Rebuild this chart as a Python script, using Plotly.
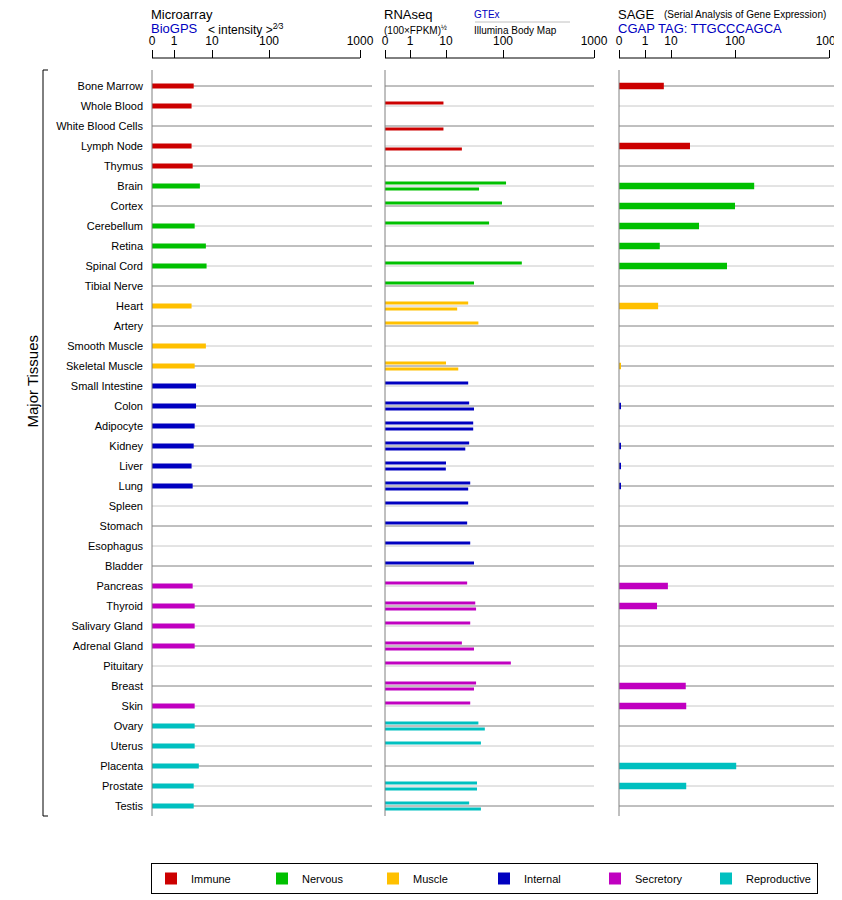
import numpy as np
import plotly.graph_objects as go

tissues = ["Bone Marrow","Whole Blood","White Blood Cells","Lymph Node","Thymus","Brain","Cortex",
 "Cerebellum","Retina","Spinal Cord","Tibial Nerve","Heart","Artery","Smooth Muscle","Skeletal Muscle",
 "Small Intestine","Colon","Adipocyte","Kidney","Liver","Lung","Spleen","Stomach","Esophagus","Bladder",
 "Pancreas","Thyroid","Salivary Gland","Adrenal Gland","Pituitary","Breast","Skin","Ovary","Uterus",
 "Placenta","Prostate","Testis"]
group_names = ["Immune","Nervous","Muscle","Internal","Secretory","Reproductive"]
group_colors = ["#cc0000","#00c000","#ffc000","#0000c0","#c000c0","#00c0c0"]
group_of = [0]*5 + [1]*6 + [2]*4 + [3]*10 + [4]*7 + [5]*5
N = None
microarray = [3.3,2.9,N,2.9,3.1,4.8,N,3.5,6.9,7.2,N,2.9,N,6.9,3.5,3.8,3.8,3.5,3.3,2.9,3.1,N,N,N,N,
              3.1,3.5,3.5,3.5,N,N,3.5,3.5,3.5,4.5,3.3,3.3]
gtex = [N,8.5,N,N,N,108,96,57,N,161,31,24.5,37,N,10,24.5,25.5,30,25.5,10,26.6,24.5,23.5,26.6,31,
        23.5,32.6,26.6,19,122,33.7,26.6,37,41,N,35,25.5]
illumina = [N,N,8.5,19,N,38,N,N,N,N,N,15.7,N,N,16.4,N,31,30,21.8,9.9,24.5,N,N,N,N,
            N,33.7,N,31,N,31,N,48,N,N,35,41]
sage = [5.3,N,N,19.8,N,160,100,27.4,3.7,75,N,3.2,N,N,0.05,N,0.05,N,0.05,0.05,0.05,N,N,N,N,
        7.6,2.9,N,N,N,17,17.3,N,N,103,17.3,N]
tick_labels = ["0","1","10","100","1000"]

panels = [  # (domain px, tick positions px, range end)
    ((144,364),[0,22,60,117,208],220),
    ((377,586),[0,25,61,118,209],209),
    ((611,831),[0,26,52,116,210],220),
]
W,H = 842,900

def pos(v, tp):
    if v is None: return None
    if v < 1: return v*tp[1]
    return float(np.interp(np.log10(v),[0,1,2,3],tp[1:]))

fig = go.Figure()
def add(vals, pi, off, width, leg):
    tp = panels[pi][1]
    ax = "x" if pi==0 else f"x{pi+1}"
    for g in range(6):
        ys=[];xs=[]
        for i,v in enumerate(vals):
            if group_of[i]==g and v is not None:
                ys.append(i+off); xs.append(pos(v,tp))
        fig.add_trace(go.Bar(x=xs,y=ys,orientation="h",width=width,marker_color=group_colors[g],
            marker_line_width=0,xaxis=ax,yaxis="y",name=group_names[g],showlegend=leg,legendgroup=group_names[g]))
add(microarray,0,0,0.25,True)
add(gtex,1,-0.15,0.16,False)
add(illumina,1,0.15,0.16,False)
add(sage,2,0,0.32,False)

shapes=[]
for pi,(dom,tp,rend) in enumerate(panels):
    ax = "x" if pi==0 else f"x{pi+1}"
    for i in range(len(tissues)):
        shapes.append(dict(type="line",xref=ax,yref="y",x0=0,x1=rend,y0=i,y1=i,layer="below",
                           line=dict(color="#808080" if i%2==0 else "#c8c8c8",width=1)))
    shapes.append(dict(type="line",xref="paper",yref="paper",x0=dom[0]/W,x1=dom[0]/W,y0=1-62/H,y1=1-808/H,
                       line=dict(color="#808080",width=1)))
    shapes.append(dict(type="line",xref="paper",yref="paper",x0=dom[0]/W,x1=(dom[0]+tp[-1])/W,y0=1-50/H,y1=1-50/H,
                       line=dict(color="black",width=1)))
shapes.append(dict(type="line",xref="paper",yref="paper",x0=35/W,x1=35/W,y0=1-62/H,y1=1-808/H,line=dict(color="black",width=1)))
for yy in (62,808):
    shapes.append(dict(type="line",xref="paper",yref="paper",x0=35/W,x1=40/W,y0=1-yy/H,y1=1-yy/H,line=dict(color="black",width=1)))
shapes.append(dict(type="line",xref="paper",yref="paper",x0=467/W,x1=562/W,y0=1-14/H,y1=1-14/H,line=dict(color="#c0c0c0",width=1)))

F="Liberation Sans, Arial, sans-serif"
def ann(x,y,t,size=12,color="black",**kw):
    return dict(x=x/W,y=1-y/H,xref="paper",yref="paper",text=t,showarrow=False,xanchor="left",yanchor="middle",
                font=dict(family=F,size=size,color=color),**kw)
anns=[
 ann(141,7,"Microarray",13), ann(141,21,"BioGPS",13,"#0000c0"), ann(198,21,"< intensity ><sup>2⁄3</sup>",12),
 ann(374,7,"RNAseq",13), ann(374,22,"(100×FPKM)<sup>½</sup>",10), ann(464,7,"GTEx",10,"#0000c0"),
 ann(464,22,"Illumina Body Map",10),
 ann(608,7,"SAGE",13), ann(654,7,"(Serial Analysis of Gene Expression)",10),
 ann(608,21,"CGAP TAG: TTGCCCAGCA",13,"#0000c0"),
 dict(x=14/W,y=1-373/H,xref="paper",yref="paper",text="Major Tissues",showarrow=False,textangle=-90,
      font=dict(family=F,size=15,color="black")),
]

lay=dict(width=W,height=H,margin=dict(l=0,r=0,t=0,b=0,autoexpand=False),plot_bgcolor="white",paper_bgcolor="white",
         barmode="overlay",shapes=shapes,annotations=anns,font=dict(family=F,size=11,color="black"),
         yaxis=dict(domain=[0,1],range=[41.1,-3.9],tickvals=list(range(len(tissues))),ticktext=tissues,
                    showgrid=False,zeroline=False,ticks="",ticklabelstandoff=8,anchor="x",fixedrange=True,
                    automargin=False),
         legend=dict(orientation="h",x=143/W,y=1-886/H,xanchor="left",yanchor="bottom",bordercolor="black",
                     borderwidth=1,entrywidth=66,entrywidthmode="pixels",font=dict(size=11),
                     itemsizing="constant",itemwidth=30))
for pi,(dom,tp,rend) in enumerate(panels):
    key="xaxis" if pi==0 else f"xaxis{pi+1}"
    lay[key]=dict(domain=[dom[0]/W,dom[1]/W],range=[0,rend],side="top",anchor="free",position=1-50/H,
                  tickvals=tp,ticktext=tick_labels,showgrid=False,zeroline=False,showline=False,automargin=False,
                  ticks="outside",ticklen=8,tickcolor="black",tickfont=dict(size=12))
fig.update_layout(**lay)
fig.write_html("out.html")
